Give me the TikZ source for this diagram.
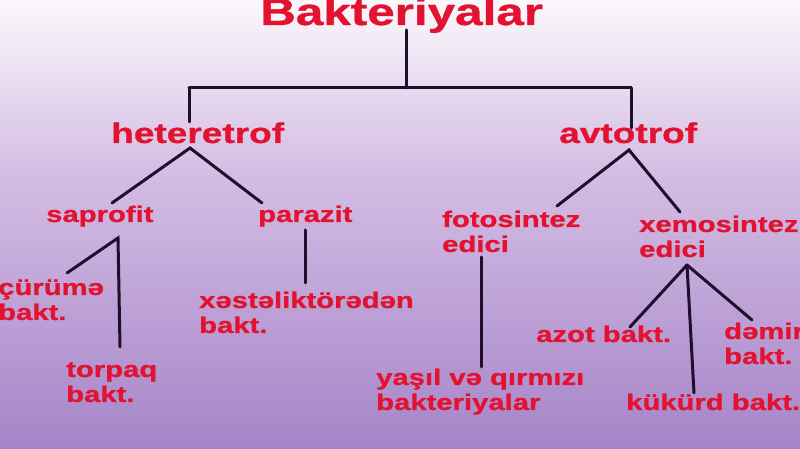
\documentclass[tikz,border=0pt]{standalone}
\usepackage{fontspec}
\setmainfont{Liberation Sans}[BoldFeatures={FakeBold=0.8}]
\usepackage{graphicx}
\definecolor{txtred}{RGB}{226,18,48}
\definecolor{ln}{RGB}{30,15,45}
\definecolor{bgA}{RGB}{166,132,200}
\definecolor{bgB}{RGB}{212,190,228}
\definecolor{bgC}{RGB}{251,248,251}
\pgfdeclareverticalshading{bgshade}{100bp}{color(0bp)=(bgA); color(25bp)=(bgA); color(56bp)=(bgB); color(75bp)=(bgC); color(100bp)=(bgC)}
\newcommand{\wideT}[1]{\scalebox{1.3}[1]{#1}}
\newcommand{\twoL}[2]{\wideT{\begin{tabular}[t]{@{}l@{}}#1\\#2\end{tabular}}}
\begin{document}
\begin{tikzpicture}[x=1pt,y=1pt,
  lbl/.style={inner sep=0pt, anchor=base west, text=txtred},
  big/.style={font=\bfseries\fontsize{38}{40}\selectfont},
  mid/.style={font=\bfseries\fontsize{28.5}{30}\selectfont},
  sml/.style={font=\bfseries\fontsize{22.5}{25}\selectfont},
  conn/.style={draw=ln, line width=3pt, line cap=round}]
\shade[shading=bgshade] (0,0) rectangle (800,449);
\useasboundingbox (0,0) rectangle (800,449);

% labels
\node[lbl,big] (title) at (260,424) {\wideT{Bakteriyalar}};
\node[lbl,mid] (het) at (111,306) {\wideT{heteretrof}};
\node[lbl,mid] (avt) at (559,306) {\wideT{avtotrof}};
\node[lbl,sml] (sap) at (46,227) {\wideT{saprofit}};
\node[lbl,sml] (par) at (258,227) {\wideT{parazit}};
\node[lbl,sml] (foto) at (442,222) {\twoL{fotosintez}{edici}};
\node[lbl,sml] (xemo) at (639,217) {\twoL{xemosintez}{edici}};
\node[lbl,sml] (cur) at (-2,154) {\twoL{çürümə}{bakt.}};
\node[lbl,sml] (tor) at (66,72) {\twoL{torpaq}{bakt.}};
\node[lbl,sml] (xes) at (199,141) {\twoL{xəstəliktörədən}{bakt.}};
\node[lbl,sml] (azot) at (536,107) {\wideT{azot bakt.}};
\node[lbl,sml] (dem) at (724,110) {\twoL{dəmir}{bakt.}};
\node[lbl,sml] (yas) at (376,64) {\twoL{yaşıl və qırmızı}{bakteriyalar}};
\node[lbl,sml] (kuk) at (626,39) {\wideT{kükürd bakt.}};

% connector end points
\coordinate (tBot) at (406,419);
\coordinate (jTop) at (406,361);
\coordinate (jL) at (189,361);
\coordinate (jR) at (631,361);
\coordinate (hetTop) at (189,327);
\coordinate (avtTop) at (631,321);
\coordinate (hetApex) at (190,301);
\coordinate (sapEnd) at (112,246);
\coordinate (parEnd) at (262,246);
\coordinate (avtApex) at (629,299);
\coordinate (fotoEnd) at (557,243);
\coordinate (xemoEnd) at (680,237);
\coordinate (sapApex) at (118,211);
\coordinate (curEnd) at (67,176);
\coordinate (torEnd) at (120,102);
\coordinate (parBot) at (305,219);
\coordinate (xesEnd) at (305,166);
\coordinate (fotoBot) at (481,192);
\coordinate (yasEnd) at (481,82);
\coordinate (xemoApex) at (687,184);
\coordinate (azotEnd) at (630,122);
\coordinate (kukEnd) at (694,56);
\coordinate (demEnd) at (752,129);

% connectors
\draw[conn] (tBot) -- (jTop);
\draw[conn] (jL) -- (jR);
\draw[conn] (jL) -- (hetTop);
\draw[conn] (jR) -- (avtTop);
\draw[conn] (sapEnd) -- (hetApex) -- (parEnd);
\draw[conn] (fotoEnd) -- (avtApex) -- (xemoEnd);
\draw[conn] (curEnd) -- (sapApex) -- (torEnd);
\draw[conn] (parBot) -- (xesEnd);
\draw[conn] (fotoBot) -- (yasEnd);
\draw[conn] (xemoApex) -- (azotEnd);
\draw[conn] (xemoApex) -- (kukEnd);
\draw[conn] (xemoApex) -- (demEnd);
\end{tikzpicture}
\end{document}
